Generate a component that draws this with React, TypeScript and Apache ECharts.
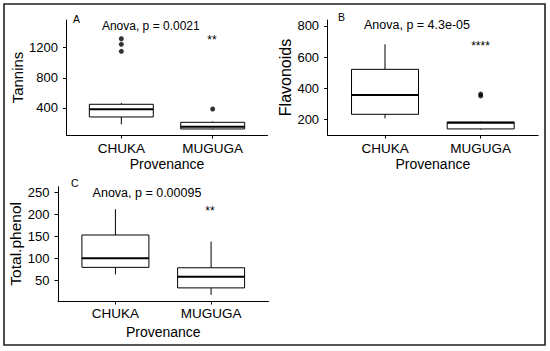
import React, { useEffect, useRef } from "react";
import * as echarts from "echarts";

const categories = ["CHUKA", "MUGUGA"];

// [min, Q1, median, Q3, max]
const tanninsBox = [
  [184, 281, 383, 449, 466],
  [112, 122, 152, 210, 222],
];
const tanninsOutliers = [
  [1, 1151],
  [1, 1244],
  [1, 1318],
  [2, 387],
];
const tanninsTicks = [400, 800, 1200];

const flavBox = [
  [206, 232, 356, 521, 682],
  [133, 138, 178, 182, 186],
];
const flavOutliers = [
  [2, 350],
  [2, 362],
];
const flavTicks = [200, 400, 600, 800];

const phenolBox = [
  [63, 79, 100, 153, 212],
  [16, 32, 57.5, 78, 138],
];
const phenolOutliers: number[][] = [];
const phenolTicks = [50, 100, 150, 200, 250];

const FONT = "'Liberation Sans', Arial, Helvetica, sans-serif";
const INK = "#000";

function renderBox(params: any, api: any) {
  const x = api.value(0);
  const lo = api.value(1);
  const q1 = api.value(2);
  const med = api.value(3);
  const q3 = api.value(4);
  const hi = api.value(5);
  const halfW = api.size([0.7, 0])[0] / 2;
  const pLo = api.coord([x, lo]);
  const pQ1 = api.coord([x, q1]);
  const pMed = api.coord([x, med]);
  const pQ3 = api.coord([x, q3]);
  const pHi = api.coord([x, hi]);
  const cx = pLo[0];
  return {
    type: "group",
    children: [
      { type: "line", shape: { x1: cx, y1: pHi[1], x2: cx, y2: pQ3[1] }, style: { stroke: INK, lineWidth: 1 } },
      { type: "line", shape: { x1: cx, y1: pQ1[1], x2: cx, y2: pLo[1] }, style: { stroke: INK, lineWidth: 1 } },
      {
        type: "rect",
        shape: { x: cx - halfW, y: pQ3[1], width: 2 * halfW, height: pQ1[1] - pQ3[1] },
        style: { fill: "#fff", stroke: INK, lineWidth: 1 },
      },
      {
        type: "line",
        shape: { x1: cx - halfW, y1: pMed[1], x2: cx + halfW, y2: pMed[1] },
        style: { stroke: INK, lineWidth: 2 },
      },
    ],
  };
}

const panels = [
  {
    name: "Tannins",
    box: tanninsBox,
    outliers: tanninsOutliers,
    ticks: tanninsTicks,
    grid: { left: 66.5, top: 20, width: 201, height: 115 },
    min: 42,
    max: 1566,
    nameGap: 40,
    nameSize: 15,
    catMargin: 6.5,
    provGap: 22,
  },
  {
    name: "Flavonoids",
    box: flavBox,
    outliers: flavOutliers,
    ticks: flavTicks,
    grid: { left: 327.6, top: 20, width: 210.5, height: 115 },
    min: 99,
    max: 838,
    nameGap: 31,
    nameSize: 16,
    catMargin: 6.5,
    provGap: 22,
  },
  {
    name: "Total.phenol",
    box: phenolBox,
    outliers: phenolOutliers,
    ticks: phenolTicks,
    grid: { left: 58, top: 186.7, width: 210.5, height: 114.3 },
    min: 2,
    max: 263.5,
    nameGap: 31,
    nameSize: 15.5,
    catMargin: 5,
    provGap: 23.5,
  },
];

export default function App() {
  const ref = useRef<HTMLDivElement>(null);
  useEffect(() => {
    if (!ref.current) return;
    const chart = echarts.init(ref.current, undefined, { renderer: "svg" });
    const option: any = {
      animation: false,
      backgroundColor: "#fff",
      textStyle: { fontFamily: FONT },
      grid: panels.map((p) => ({ ...p.grid, outerBoundsMode: "none", containLabel: false })),
      xAxis: panels.map((p, i) => ({
        type: "value",
        gridIndex: i,
        min: 0.4,
        max: 2.6,
        axisLine: { show: true, onZero: false, lineStyle: { color: INK, width: 1 } },
        axisTick: { show: true, customValues: [1, 2], length: 3.5, lineStyle: { color: INK, width: 1 } },
        axisLabel: {
          show: true,
          customValues: [1, 2],
          formatter: (v: number) => categories[Math.round(v) - 1] ?? "",
          fontSize: 13.5,
          color: INK,
          margin: p.catMargin,
          fontFamily: FONT,
        },
        splitLine: { show: false },
        name: "Provenance",
        nameLocation: "middle",
        nameGap: p.provGap,
        nameTextStyle: { fontSize: 14, color: INK, fontFamily: FONT },
      })),
      yAxis: panels.map((p, i) => ({
        type: "value",
        gridIndex: i,
        min: p.min,
        max: p.max,
        axisLine: { show: true, onZero: false, lineStyle: { color: INK, width: 1 } },
        axisTick: { show: true, customValues: p.ticks, length: 3.5, lineStyle: { color: INK, width: 1 } },
        axisLabel: {
          show: true,
          customValues: p.ticks,
          formatter: (v: number) => String(v),
          fontSize: 13,
          color: INK,
          margin: 8.5,
          fontFamily: FONT,
        },
        splitLine: { show: false },
        name: p.name,
        nameLocation: "middle",
        nameGap: p.nameGap,
        nameRotate: 90,
        nameTextStyle: { fontSize: p.nameSize, color: INK, fontFamily: FONT },
      })),
      series: panels.flatMap((p, i) => [
        {
          type: "custom",
          xAxisIndex: i,
          yAxisIndex: i,
          renderItem: renderBox,
          encode: { x: 0, y: [1, 2, 3, 4, 5] },
          data: p.box.map((b, k) => [k + 1, ...b]),
          silent: true,
        },
        {
          type: "scatter",
          xAxisIndex: i,
          yAxisIndex: i,
          symbol: "circle",
          symbolSize: 5,
          itemStyle: { color: INK },
          data: p.outliers,
          silent: true,
        },
      ]),
      graphic: [
        {
          type: "rect",
          shape: { x: 4, y: 4, width: 541, height: 341 },
          style: { fill: "none", stroke: "#222", lineWidth: 1.6 },
          silent: true,
        },
        { type: "text", x: 73, y: 18.5, style: { text: "A", fontSize: 10.5, fill: INK, align: "left", verticalAlign: "middle", fontFamily: FONT } },
        { type: "text", x: 338, y: 16.5, style: { text: "B", fontSize: 10.5, fill: INK, align: "left", verticalAlign: "middle", fontFamily: FONT } },
        { type: "text", x: 71, y: 182.5, style: { text: "C", fontSize: 10.5, fill: INK, align: "left", verticalAlign: "middle", fontFamily: FONT } },
        { type: "text", x: 150.8, y: 26, style: { text: "Anova, p = 0.0021", fontSize: 12, fill: INK, align: "center", verticalAlign: "middle", fontFamily: FONT } },
        { type: "text", x: 417, y: 25, style: { text: "Anova, p = 4.3e-05", fontSize: 12.5, fill: INK, align: "center", verticalAlign: "middle", fontFamily: FONT } },
        { type: "text", x: 147, y: 193, style: { text: "Anova, p = 0.00095", fontSize: 12.5, fill: INK, align: "center", verticalAlign: "middle", fontFamily: FONT } },
        { type: "text", x: 212, y: 40, style: { text: "**", fontSize: 12, fill: INK, align: "center", verticalAlign: "middle", fontFamily: FONT } },
        { type: "text", x: 480.5, y: 46, style: { text: "****", fontSize: 12, fill: INK, align: "center", verticalAlign: "middle", fontFamily: FONT } },
        { type: "text", x: 210, y: 211, style: { text: "**", fontSize: 12, fill: INK, align: "center", verticalAlign: "middle", fontFamily: FONT } },
      ],
    };
    chart.setOption(option);
    return () => chart.dispose();
  }, []);
  return (
    <div
      ref={ref}
      style={{ position: "fixed", left: 0, top: 0, width: 550, height: 351, background: "#fff" }}
    />
  );
}
